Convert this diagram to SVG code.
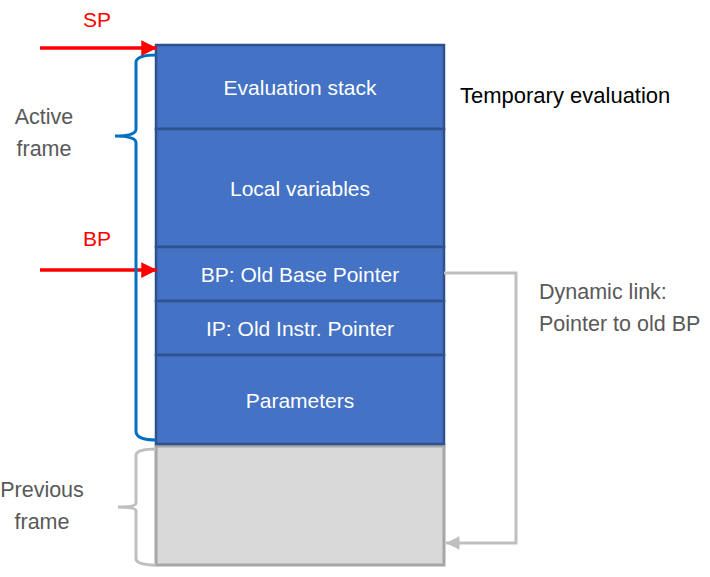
<svg xmlns="http://www.w3.org/2000/svg" width="710" height="577" viewBox="0 0 710 577">
<defs>
<style>
.blk{fill:#4472C4;stroke:#2F528F;stroke-width:2.5}
.prev{fill:#D9D9D9;stroke:#A6A6A6;stroke-width:3}
.wt{font-family:"Liberation Sans",Arial,sans-serif;font-size:21px;fill:#FFFFFF;text-anchor:middle}
.gt{font-family:"Liberation Sans",Arial,sans-serif;font-size:21.5px;fill:#595959}
.rt{font-family:"Liberation Sans",Arial,sans-serif;font-size:21px;fill:#FF0000;text-anchor:middle}
.bt{font-family:"Liberation Sans",Arial,sans-serif;font-size:22px;fill:#000000}
</style>
<marker id="red" viewBox="0 0 10 10" refX="10" refY="5" markerWidth="4.5" markerHeight="4.5" markerUnits="strokeWidth" orient="auto"><path d="M0,0 L10,5 L0,10 Z" fill="#FF0000"/></marker>
<marker id="gray" viewBox="0 0 10 10" refX="10" refY="5" markerWidth="4.5" markerHeight="4.5" markerUnits="strokeWidth" orient="auto"><path d="M0,0 L10,5 L0,10 Z" fill="#BFBFBF"/></marker>
</defs>
<g id="prev-frame"><rect class="prev" x="156" y="446" width="288" height="119"/></g>
<g id="eval-stack"><rect class="blk" x="156" y="45" width="288" height="84"/><text class="wt" x="300" y="95">Evaluation stack</text></g>
<g id="local-vars"><rect class="blk" x="156" y="129" width="288" height="118"/><text class="wt" x="300" y="196">Local variables</text></g>
<g id="old-bp"><rect class="blk" x="156" y="247" width="288" height="54"/><text class="wt" x="300" y="282">BP: Old Base Pointer</text></g>
<g id="old-ip"><rect class="blk" x="156" y="301" width="288" height="54"/><text class="wt" x="300" y="336">IP: Old Instr. Pointer</text></g>
<g id="params"><rect class="blk" x="156" y="355" width="288" height="89"/><text class="wt" x="300" y="408">Parameters</text></g>
<g id="labels">
<text class="rt" x="97" y="27">SP</text>
<text class="rt" x="97" y="246">BP</text>
<text class="bt" x="460" y="103">Temporary evaluation</text>
<text class="gt" x="44" y="124" text-anchor="middle">Active</text>
<text class="gt" x="44" y="156" text-anchor="middle">frame</text>
<text class="gt" x="42" y="497" text-anchor="middle">Previous</text>
<text class="gt" x="42" y="529" text-anchor="middle">frame</text>
<text class="gt" x="539" y="299">Dynamic link:</text>
<text class="gt" x="539" y="331">Pointer to old BP</text>
</g>
<g id="connectors" fill="none">
<line x1="40" y1="48" x2="157" y2="48" stroke="#FF0000" stroke-width="3.5" marker-end="url(#red)"/>
<line x1="40" y1="270" x2="157" y2="270" stroke="#FF0000" stroke-width="3.5" marker-end="url(#red)"/>
<path d="M156,55 Q137,55 136,62 L136,129 Q136,136 115,136 Q136,136 136,143 L136,432 Q137,440 156,440" stroke="#0070C0" stroke-width="3"/>
<path d="M156,449 Q137,449 136,455 L136,503 Q136,507 118,507 Q136,507 136,511 L136,559 Q137,565 156,565" stroke="#BFBFBF" stroke-width="3"/>
<path d="M444,273 L516,273 L516,543 L446,543" stroke="#BFBFBF" stroke-width="3" marker-end="url(#gray)"/>
</g>
</svg>
